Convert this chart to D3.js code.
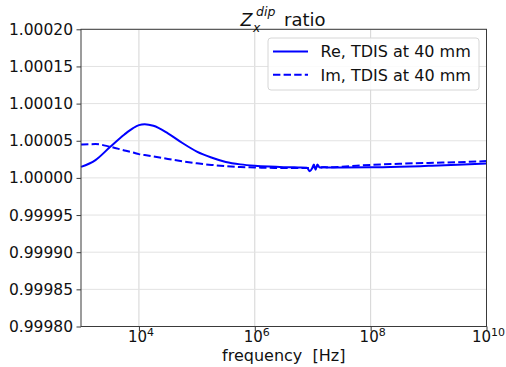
<!DOCTYPE html>
<html>
<head>
<meta charset="utf-8">
<script src="https://cdn.jsdelivr.net/npm/d3@7"></script>
<style>
  html, body { margin: 0; padding: 0; background: #fff; }
  svg { display: block; font-family: "DejaVu Sans", sans-serif; }
</style>
</head>
<body>
<svg id="chart" width="506" height="367"></svg>
<script>
// log10 of frequency (Hz) for each sample
const logFreq = [3.0, 3.25, 3.5, 3.75, 3.9, 4.0, 4.1, 4.25, 4.5, 4.75, 5.0, 5.25, 5.5, 5.75, 6.0, 6.25, 6.5, 6.75, 6.9, 6.95, 6.99, 7.02, 7.05, 7.08, 7.12, 7.18, 7.25, 7.5, 8.0, 8.5, 9.0, 9.5, 10.0];
// Re(Z) ratio minus 1, in units of 1e-5
const reOffset = [1.49, 2.4, 4.15, 5.85, 6.7, 7.1, 7.23, 7.02, 6.0, 4.7, 3.55, 2.75, 2.15, 1.82, 1.63, 1.52, 1.45, 1.41, 1.38, 0.9, 1.3, 1.8, 1.1, 1.8, 1.4, 1.45, 1.4, 1.4, 1.42, 1.5, 1.62, 1.76, 1.95];
// Im(Z) ratio minus 1, in units of 1e-5
const imOffset = [4.5, 4.55, 4.2, 3.7, 3.42, 3.2, 3.07, 2.88, 2.55, 2.23, 1.96, 1.75, 1.58, 1.46, 1.4, 1.36, 1.33, 1.33, 1.34, 1.34, 1.36, 1.5, 1.3, 1.55, 1.35, 1.45, 1.42, 1.5, 1.75, 1.9, 2.02, 2.12, 2.26];

const yTicks = [0.99980, 0.99985, 0.99990, 0.99995, 1.00000, 1.00005, 1.00010, 1.00015, 1.00020];
const xTickExps = [4, 6, 8, 10];
const seriesNames = ["Re, TDIS at 40 mm", "Im, TDIS at 40 mm"];

const freq = logFreq.map(l => Math.pow(10, l));
const reVals = reOffset.map(v => 1 + v * 1e-5);
const imVals = imOffset.map(v => 1 + v * 1e-5);

const svg = d3.select("#chart");
const m = { left: 81, right: 486.5, top: 29.3, bottom: 326.5 };

const x = d3.scaleLog().domain([1e3, 1e10]).range([m.left, m.right]);
const y = d3.scaleLinear().domain([0.99980, 1.00020]).range([m.bottom, m.top]);

// grid
const grid = svg.append("g");
grid.selectAll("line.gx").data(xTickExps).join("line")
  .attr("x1", d => x(Math.pow(10, d))).attr("x2", d => x(Math.pow(10, d)))
  .attr("y1", m.top).attr("y2", m.bottom)
  .attr("stroke", "#d4d4d4").attr("stroke-width", 1);
grid.selectAll("line.gy").data(yTicks).join("line")
  .attr("x1", m.left).attr("x2", m.right)
  .attr("y1", d => y(d)).attr("y2", d => y(d))
  .attr("stroke", "#e2e2e2").attr("stroke-width", 1);

// curves
const line = d3.line()
  .x((d, i) => x(freq[i]))
  .y(d => y(d))
  .curve(d3.curveMonotoneX);

const plot = svg.append("g");
plot.append("path").datum(imVals)
  .attr("d", line).attr("fill", "none")
  .attr("stroke", "#0000ff").attr("stroke-width", 2)
  .attr("stroke-dasharray", "7.4,3.2");
plot.append("path").datum(reVals)
  .attr("d", line).attr("fill", "none")
  .attr("stroke", "#0000ff").attr("stroke-width", 2);

// axes frame
svg.append("rect")
  .attr("x", m.left).attr("y", m.top)
  .attr("width", m.right - m.left).attr("height", m.bottom - m.top)
  .attr("fill", "none").attr("stroke", "#3a3a3a").attr("stroke-width", 1);

// y axis
const yAxis = d3.axisLeft(y).tickValues(yTicks).tickSize(4.5).tickPadding(3.5)
  .tickFormat(d3.format(".5f"));
const gy = svg.append("g").attr("transform", `translate(${m.left},0)`).call(yAxis);
gy.select(".domain").remove();
gy.selectAll(".tick line").attr("stroke", "#3a3a3a");
gy.selectAll(".tick text").attr("font-size", 15.5).attr("fill", "#111")
  .attr("font-family", "DejaVu Sans");

// x axis
const xAxis = d3.axisBottom(x).tickValues(xTickExps.map(e => Math.pow(10, e)))
  .tickSize(4.5).tickFormat("");
const gx = svg.append("g").attr("transform", `translate(0,${m.bottom})`).call(xAxis);
gx.select(".domain").remove();
gx.selectAll(".tick line").attr("stroke", "#3a3a3a");
const xl = svg.append("g");
xTickExps.forEach(e => {
  const t = xl.append("text")
    .attr("x", x(Math.pow(10, e)) + 2)
    .attr("y", m.bottom + 15.5)
    .attr("text-anchor", "middle")
    .attr("font-size", 15).attr("fill", "#111");
  t.append("tspan").text("10");
  t.append("tspan").attr("dy", -6.5).attr("font-size", 11).text(e);
});

// axis label
svg.append("text")
  .attr("x", (m.left + m.right) / 2).attr("y", 360.5)
  .attr("text-anchor", "middle").attr("font-size", 16).attr("fill", "#111")
  .text("frequency\u00a0\u00a0[Hz]");

// title: Z with superscript "dip" and subscript "x", then "ratio"
const tg = svg.append("g").attr("fill", "#111");
tg.append("text").attr("x", 240.5).attr("y", 25.5)
  .attr("font-size", 17.5).attr("font-style", "italic").text("Z");
tg.append("text").attr("x", 256).attr("y", 16)
  .attr("font-size", 12.5).attr("font-style", "italic").text("dip");
tg.append("text").attr("x", 253).attr("y", 31.5)
  .attr("font-size", 12.3).attr("font-style", "italic").text("x");
tg.append("text").attr("x", 284).attr("y", 25.5)
  .attr("font-size", 18).text("ratio");

// legend
const lg = svg.append("g");
lg.append("rect")
  .attr("x", 268).attr("y", 38).attr("width", 211).attr("height", 52)
  .attr("rx", 3).attr("fill", "rgba(255,255,255,0.85)")
  .attr("stroke", "#d6d6d6").attr("stroke-width", 1);
const legendRows = seriesNames.map((n, i) => ({ name: n, dash: i === 1 }));
legendRows.forEach((r, i) => {
  const yy = 51.5 + i * 23.3;
  lg.append("line")
    .attr("x1", 273).attr("x2", 308).attr("y1", yy).attr("y2", yy)
    .attr("stroke", "#0000ff").attr("stroke-width", 2)
    .attr("stroke-dasharray", r.dash ? "7.4,3.2" : null);
  lg.append("text")
    .attr("x", 320.5).attr("y", yy + 5.8)
    .attr("font-size", 16).attr("fill", "#111")
    .text(r.name);
});
</script>
</body>
</html>
